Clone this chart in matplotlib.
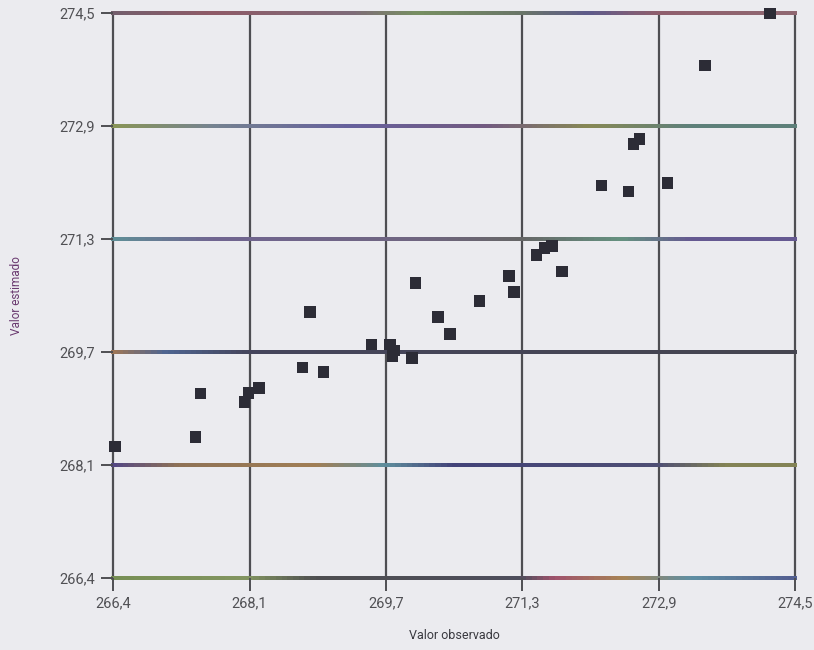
import numpy as np
import matplotlib
matplotlib.use("Agg")
import matplotlib.pyplot as plt
from matplotlib.collections import LineCollection
from matplotlib.colors import to_rgb

# ---- data ----
tick_values = [266.4, 268.02, 269.64, 271.26, 272.88, 274.5]
tick_labels = ["266,4", "268,1", "269,7", "271,3", "272,9", "274,5"]

observado = [266.42, 267.38, 267.44, 267.96, 268.01, 268.13, 268.65, 268.74,
             268.90, 269.47, 269.69, 269.74, 269.72, 269.95, 269.99, 270.26,
             270.40, 270.75, 271.10, 271.16, 271.43, 271.52, 271.61, 271.73,
             272.20, 272.52, 272.58, 272.65, 272.98, 273.43, 274.20]
estimado = [268.28, 268.42, 269.04, 268.92, 269.05, 269.12, 269.42, 270.21,
            269.35, 269.75, 269.75, 269.66, 269.58, 269.55, 270.63, 270.14,
            269.90, 270.37, 270.73, 270.50, 271.03, 271.13, 271.16, 270.79,
            272.03, 271.94, 272.62, 272.69, 272.06, 273.75, 274.49]

x_label = "Valor observado"
y_label = "Valor estimado"

# colour tints of the (scanned) horizontal grid lines, as fractions along the line
h_line_colors = {
    274.5: [(0.0, "#7a6070"), (0.15, "#a05a68"), (0.35, "#8a7080"), (0.45, "#80a060"),
            (0.6, "#6f7f6a"), (0.7, "#5e5a98"), (0.8, "#a06070"), (1.0, "#a06c76")],
    272.88: [(0.0, "#98a850"), (0.15, "#7e90a0"), (0.35, "#6a62b0"), (0.55, "#7a5a8a"),
             (0.7, "#969850"), (0.85, "#5f8c82"), (1.0, "#5f8c82")],
    271.26: [(0.0, "#60a0a8"), (0.15, "#7868a0"), (0.45, "#76688a"), (0.6, "#6a6a68"),
             (0.75, "#68a48a"), (0.85, "#6858a0"), (1.0, "#6858a0")],
    269.64: [(0.0, "#b88050"), (0.08, "#4a68a0"), (0.2, "#3e3e5a"), (1.0, "#3e3e4a")],
    268.02: [(0.0, "#504090"), (0.1, "#a07a50"), (0.3, "#b88a50"), (0.4, "#60a0b0"),
             (0.5, "#3a3a80"), (0.8, "#4a4a7a"), (0.9, "#909050"), (1.0, "#909050")],
    266.4: [(0.0, "#80a050"), (0.2, "#90a860"), (0.3, "#4a4a4a"), (0.6, "#4a4a5a"),
            (0.65, "#b85070"), (0.75, "#c09050"), (0.85, "#60a0b8"), (1.0, "#5060a0")],
}

bg = "#ebebef"
fig = plt.figure(figsize=(8.14, 6.5), dpi=100, facecolor=bg)
ax = fig.add_axes([0.139, 0.111, 0.838, 0.869], facecolor=bg)

xmin, xmax = tick_values[0], tick_values[-1]
ax.set_xlim(xmin, xmax)
ax.set_ylim(xmin, xmax)

# vertical grid lines
for xv in tick_values:
    ax.axvline(xv, color="#4e4e52", lw=1.6, zorder=1, clip_on=False)

# horizontal tinted grid lines (tints blended towards grey)
grey = np.array(to_rgb("#5a5a62"))
n = 120
for yv in tick_values:
    key = min(h_line_colors, key=lambda k: abs(k - yv))
    stops = h_line_colors[key]
    fr = np.array([s[0] for s in stops])
    cols = np.array([to_rgb(s[1]) for s in stops]) * 0.75 + grey * 0.25
    t = np.linspace(0, 1, n + 1)
    xs = xmin + t * (xmax - xmin)
    segs = [[(xs[i], yv), (xs[i + 1], yv)] for i in range(n)]
    tm = (t[:-1] + t[1:]) / 2
    c = np.stack([np.interp(tm, fr, cols[:, k]) for k in range(3)], axis=1)
    lc = LineCollection(segs, colors=c, linewidths=1.7, zorder=1.5, clip_on=False,
                        capstyle="projecting", antialiaseds=False)
    ax.add_collection(lc)

ax.scatter(observado, estimado, marker="s", s=68, color="#2c2c36",
           edgecolors="none", zorder=3, clip_on=False)

for sp in ax.spines.values():
    sp.set_visible(False)

fam = ["Liberation Sans Narrow", "Roboto", "DejaVu Sans"]
ax.set_xticks(tick_values)
ax.set_xticklabels(tick_labels, family=fam, fontsize=10.5, color="#505054")
ax.set_yticks(tick_values)
ax.set_yticklabels(tick_labels, family=fam, fontsize=10.5, color="#505054")
ax.tick_params(axis="both", direction="out", length=9, width=1.4, color="#4e4e52", pad=4)

ax.set_xlabel(x_label, family=fam, fontsize=9, color="#3a3a40", labelpad=14)
ax.set_ylabel(y_label, family=fam, fontsize=8.5, color="#6a3a70", labelpad=26)

fig.savefig("out.png", dpi=100, facecolor=bg)
